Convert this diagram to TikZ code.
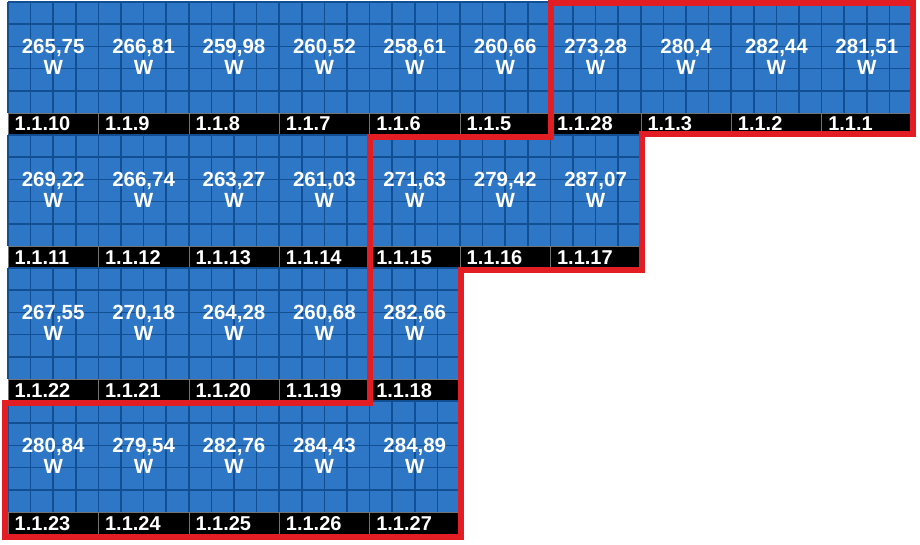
\documentclass[tikz,border=0pt]{standalone}
\usepackage{fontspec}
\setsansfont{Liberation Sans}
\definecolor{cellblue}{RGB}{46,119,198}
\definecolor{gridblue}{RGB}{18,78,146}
\definecolor{borderred}{RGB}{226,30,36}

\begin{document}
\begin{tikzpicture}[x=1pt,y=-1pt,
  panel/.style={fill=cellblue,anchor=north west,minimum width=90.4pt,minimum height=133pt,inner sep=0pt},
  cellline/.style={draw=gridblue,line width=1.7pt},
  strip/.style={fill=black,draw=black!55,line width=0.6pt},
  watt/.style={font=\sffamily\bfseries\fontsize{20.5}{21}\selectfont,text=white,align=center,inner sep=0pt},
  tag/.style={font=\sffamily\bfseries\fontsize{20}{21}\selectfont,text=white,anchor=base west,inner sep=0pt},
  border/.style={draw=borderred,line width=6pt,line join=miter},
]
\useasboundingbox[fill=white] (0,0) rectangle (920,545);
% modules: column / row / power / id
\foreach \col/\row/\pw/\pid in {
  0/0/{265,75}/1.1.10, 1/0/{266,81}/1.1.9, 2/0/{259,98}/1.1.8, 3/0/{260,52}/1.1.7,
  4/0/{258,61}/1.1.6, 5/0/{260,66}/1.1.5, 6/0/{273,28}/1.1.28, 7/0/{280,4}/1.1.3,
  8/0/{282,44}/1.1.2, 9/0/{281,51}/1.1.1,
  0/1/{269,22}/1.1.11, 1/1/{266,74}/1.1.12, 2/1/{263,27}/1.1.13, 3/1/{261,03}/1.1.14,
  4/1/{271,63}/1.1.15, 5/1/{279,42}/1.1.16, 6/1/{287,07}/1.1.17,
  0/2/{267,55}/1.1.22, 1/2/{270,18}/1.1.21, 2/2/{264,28}/1.1.20, 3/2/{260,68}/1.1.19,
  4/2/{282,66}/1.1.18,
  0/3/{280,84}/1.1.23, 1/3/{279,54}/1.1.24, 2/3/{282,76}/1.1.25, 3/3/{284,43}/1.1.26,
  4/3/{284,89}/1.1.27}
{
  \pgfmathsetmacro\px{8+90.4*\col}
  \pgfmathsetmacro\py{2+133*\row}
  \node[panel] (panel-\row-\col) at (\px,\py) {};
  \foreach \k in {0,...,4} \draw[cellline] (\px+\k*22.6,\py) -- ++(0,111);
  \foreach \k in {0,...,4} \draw[cellline] (\px,\py+\k*22.2) -- ++(90.4,0);
  \draw[strip] (\px,\py+111) rectangle ++(90.4,22);
  \node[watt] (watt-\row-\col) at (\px+45.2,\py+54.5) {\pw\\W};
  \node[tag] (tag-\row-\col) at (\px+6.5,\py+129) {\pid};
}
% measured group
\draw[border] (551,3) -- (913,3) -- (913,134) -- (642,134) -- (642,270) -- (461,270)
  -- (461,537) -- (5,537) -- (5,403) -- (370,403) -- (370,137) -- (551,137) -- cycle;
\end{tikzpicture}
\end{document}
